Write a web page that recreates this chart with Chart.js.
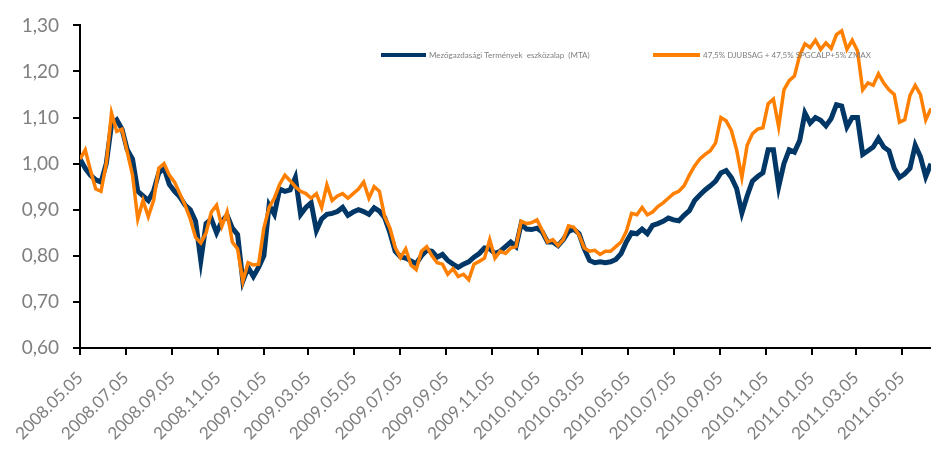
<!DOCTYPE html>
<html>
<head>
<meta charset="utf-8">
<script src="https://cdn.jsdelivr.net/npm/chart.js@4.4.1/dist/chart.umd.min.js"></script>
<style>
  html, body { margin: 0; padding: 0; background: #fff; }
  #wrap { width: 931px; height: 450px; position: relative; }
</style>
</head>
<body>
<div id="wrap"><canvas id="myChart"></canvas></div>
<script>
// weekly observation dates (Mondays)
const dates = [
  '2008-05-05','2008-05-12','2008-05-19','2008-05-26','2008-06-02','2008-06-09','2008-06-16','2008-06-23','2008-06-30',
  '2008-07-07','2008-07-14','2008-07-21','2008-07-28','2008-08-04','2008-08-11','2008-08-18','2008-08-25',
  '2008-09-01','2008-09-08','2008-09-15','2008-09-22','2008-09-29','2008-10-06','2008-10-13','2008-10-20','2008-10-27',
  '2008-11-03','2008-11-10','2008-11-17','2008-11-24','2008-12-01','2008-12-08','2008-12-15','2008-12-22','2008-12-29',
  '2009-01-05','2009-01-12','2009-01-19','2009-01-26','2009-02-02','2009-02-09','2009-02-16','2009-02-23',
  '2009-03-02','2009-03-09','2009-03-16','2009-03-23','2009-03-30','2009-04-06','2009-04-13','2009-04-20','2009-04-27',
  '2009-05-04','2009-05-11','2009-05-18','2009-05-25','2009-06-01','2009-06-08','2009-06-15','2009-06-22','2009-06-29',
  '2009-07-06','2009-07-13','2009-07-20','2009-07-27','2009-08-03','2009-08-10','2009-08-17','2009-08-24','2009-08-31',
  '2009-09-07','2009-09-14','2009-09-21','2009-09-28','2009-10-05','2009-10-12','2009-10-19','2009-10-26',
  '2009-11-02','2009-11-09','2009-11-16','2009-11-23','2009-11-30','2009-12-07','2009-12-14','2009-12-21','2009-12-28',
  '2010-01-04','2010-01-11','2010-01-18','2010-01-25','2010-02-01','2010-02-08','2010-02-15','2010-02-22',
  '2010-03-01','2010-03-08','2010-03-15','2010-03-22','2010-03-29','2010-04-05','2010-04-12','2010-04-19','2010-04-26',
  '2010-05-03','2010-05-10','2010-05-17','2010-05-24','2010-05-31','2010-06-07','2010-06-14','2010-06-21','2010-06-28',
  '2010-07-05','2010-07-12','2010-07-19','2010-07-26','2010-08-02','2010-08-09','2010-08-16','2010-08-23','2010-08-30',
  '2010-09-06','2010-09-13','2010-09-20','2010-09-27','2010-10-04','2010-10-11','2010-10-18','2010-10-25',
  '2010-11-01','2010-11-08','2010-11-15','2010-11-22','2010-11-29','2010-12-06','2010-12-13','2010-12-20','2010-12-27',
  '2011-01-03','2011-01-10','2011-01-17','2011-01-24','2011-01-31','2011-02-07','2011-02-14','2011-02-21','2011-02-28',
  '2011-03-07','2011-03-14','2011-03-21','2011-03-28','2011-04-04','2011-04-11','2011-04-18','2011-04-25',
  '2011-05-02','2011-05-09','2011-05-16','2011-05-23','2011-05-30','2011-06-06','2011-06-13'
];

// Mezőgazdasági Termények eszközalap (MTA)
const mtaValues = [
  1.01, 0.99, 0.975, 0.965, 0.96, 1.0, 1.085, 1.095, 1.075, 1.03,
  1.01, 0.94, 0.93, 0.92, 0.94, 0.98, 0.99, 0.955, 0.94, 0.928,
  0.91, 0.9, 0.875, 0.79, 0.87, 0.88, 0.85, 0.875, 0.888, 0.86,
  0.846, 0.745, 0.775, 0.755, 0.775, 0.8, 0.91, 0.89, 0.945, 0.94,
  0.943, 0.97, 0.89, 0.905, 0.915, 0.855, 0.88, 0.89, 0.892, 0.896,
  0.905, 0.888, 0.895, 0.9, 0.896, 0.89, 0.904, 0.897, 0.883, 0.85,
  0.81, 0.798, 0.795, 0.789, 0.783, 0.8, 0.812, 0.81, 0.797, 0.803,
  0.79, 0.782, 0.775, 0.782, 0.787, 0.797, 0.805, 0.817, 0.815, 0.805,
  0.81, 0.82, 0.83, 0.82, 0.87, 0.858, 0.857, 0.86, 0.852, 0.83,
  0.83, 0.822, 0.835, 0.853, 0.858, 0.848, 0.815, 0.79, 0.785, 0.787,
  0.785, 0.787, 0.792, 0.805, 0.83, 0.85, 0.848, 0.858, 0.848, 0.866,
  0.87, 0.875, 0.882, 0.878, 0.876, 0.888, 0.898, 0.92, 0.932, 0.943,
  0.952, 0.962, 0.98, 0.985, 0.97, 0.946, 0.893, 0.93, 0.962, 0.972,
  0.98, 1.03, 1.03, 0.95, 1.0, 1.03, 1.025, 1.05, 1.11, 1.088,
  1.1, 1.094, 1.082, 1.098, 1.128, 1.125, 1.08, 1.1, 1.1, 1.02,
  1.028, 1.036, 1.055, 1.036, 1.028, 0.99, 0.97, 0.978, 0.99, 1.04,
  1.015, 0.972, 1.0
];

// 47,5% DJUBSAG + 47,5% SPGCALP + 5% ZMAX
const benchValues = [
  1.01, 1.03, 0.985, 0.945, 0.94, 1.0, 1.11, 1.07, 1.075, 1.025,
  0.975, 0.88, 0.92, 0.885, 0.92, 0.99, 1.0, 0.975, 0.96, 0.935,
  0.91, 0.88, 0.84, 0.828, 0.85, 0.895, 0.91, 0.864, 0.895, 0.83,
  0.815, 0.745, 0.785, 0.78, 0.782, 0.86, 0.905, 0.925, 0.955, 0.975,
  0.963, 0.95, 0.94, 0.935, 0.925, 0.935, 0.905, 0.954, 0.92, 0.93,
  0.935, 0.925, 0.935, 0.945, 0.96, 0.925, 0.95, 0.94, 0.885, 0.86,
  0.818, 0.796, 0.815, 0.78, 0.77, 0.81, 0.82, 0.8, 0.785, 0.782,
  0.76, 0.772, 0.755, 0.76, 0.748, 0.782, 0.788, 0.795, 0.835, 0.795,
  0.81, 0.805, 0.817, 0.82, 0.875, 0.87, 0.872, 0.878, 0.855, 0.83,
  0.835, 0.822, 0.835, 0.865, 0.862, 0.845, 0.817, 0.81, 0.812, 0.803,
  0.81, 0.81, 0.82, 0.83, 0.853, 0.892, 0.889, 0.905, 0.889, 0.895,
  0.907, 0.915, 0.925, 0.935, 0.94, 0.952, 0.975, 0.995, 1.01, 1.02,
  1.028, 1.045, 1.1, 1.093, 1.072, 1.03, 0.97, 1.04, 1.065, 1.075,
  1.078, 1.13, 1.14, 1.08, 1.16, 1.18, 1.19, 1.235, 1.26, 1.252,
  1.268, 1.248, 1.262, 1.25, 1.28, 1.288, 1.248, 1.268, 1.245, 1.16,
  1.175, 1.17, 1.195, 1.175, 1.16, 1.15, 1.09, 1.095, 1.148, 1.17,
  1.15, 1.095, 1.12
];

const seriesLabels = ['Mezőgazdasági Termények  eszközalap  (MTA)', '47,5% DJUBSAG + 47,5% SPGCALP+5% ZMAX'];
const tickLabels = [
  '2008.05.05','2008.07.05','2008.09.05','2008.11.05','2009.01.05','2009.03.05','2009.05.05',
  '2009.07.05','2009.09.05','2009.11.05','2010.01.05','2010.03.05','2010.05.05','2010.07.05',
  '2010.09.05','2010.11.05','2011.01.05','2011.03.05','2011.05.05'
];
const yTicks = [0.6, 0.7, 0.8, 0.9, 1.0, 1.1, 1.2, 1.3];

const DAY = 86400000;
const t0 = Date.parse(dates[0]);
function dayOf(str) {
  return (Date.parse(str.replace(/\./g, '-')) - t0) / DAY;
}
const xs = dates.map(dayOf);
const tickDays = tickLabels.map(dayOf);

// legend drawn inside the plot, like the original
const legendPlugin = {
  id: 'insideLegend',
  afterDraw(chart) {
    const ctx = chart.ctx;
    const spots = [{x: 381, y: 55, len: 45}, {x: 653, y: 55, len: 47}];
    ctx.save();
    ctx.font = '8px Lato';
    ctx.textBaseline = 'middle';
    chart.data.datasets.forEach((ds, i) => {
      const s = spots[i];
      ctx.strokeStyle = ds.borderColor;
      ctx.lineWidth = 4;
      ctx.beginPath();
      ctx.moveTo(s.x, s.y);
      ctx.lineTo(s.x + s.len, s.y);
      ctx.stroke();
      ctx.fillStyle = '#7f7f7f';
      ctx.fillText(ds.label, s.x + s.len + 3, s.y);
    });
    ctx.restore();
  }
};

const ctx = document.getElementById('myChart').getContext('2d');
const statisticChart = new Chart(ctx, {
  type: 'line',
  data: {
    datasets: [{
      label: seriesLabels[0],
      data: xs.map((x, i) => ({x: x, y: mtaValues[i]})),
      borderColor: '#003766',
      borderWidth: 5,
      pointRadius: 0,
      tension: 0,
      order: 2
    }, {
      label: seriesLabels[1],
      data: xs.map((x, i) => ({x: x, y: benchValues[i]})),
      borderColor: '#FF7F00',
      borderWidth: 3.5,
      pointRadius: 0,
      tension: 0,
      order: 1
    }]
  },
  options: {
    responsive: true,
    maintainAspectRatio: false,
    animation: false,
    layout: { padding: { top: 23, right: 0, left: 0, bottom: 0 } },
    plugins: { legend: { display: false }, tooltip: { enabled: false } },
    scales: {
      x: {
        type: 'linear',
        min: 0,
        max: xs[xs.length - 1],
        afterBuildTicks: (scale) => { scale.ticks = tickDays.map(v => ({value: v})); },
        afterFit: (scale) => { scale.height = 102; },
        grid: { drawOnChartArea: false, drawTicks: true, tickLength: 7, color: '#000', lineWidth: 2 },
        border: { color: '#000', width: 2 },
        ticks: {
          autoSkip: false,
          minRotation: 45,
          maxRotation: 45,
          padding: 13,
          color: '#7f7f7f',
          font: { family: 'Lato', size: 17 },
          callback: (value, index) => tickLabels[index]
        }
      },
      y: {
        min: 0.6,
        max: 1.3,
        afterBuildTicks: (scale) => { scale.ticks = yTicks.map(v => ({value: v})); },
        afterFit: (scale) => { scale.width = 80; },
        grid: { drawOnChartArea: false, drawTicks: true, tickLength: 7, color: '#000', lineWidth: 2 },
        border: { color: '#000', width: 2 },
        ticks: {
          padding: 14,
          color: '#7f7f7f',
          font: { family: 'Lato', size: 19 },
          callback: (value) => value.toFixed(2).replace('.', ',')
        }
      }
    }
  },
  plugins: [legendPlugin]
});
</script>
</body>
</html>
